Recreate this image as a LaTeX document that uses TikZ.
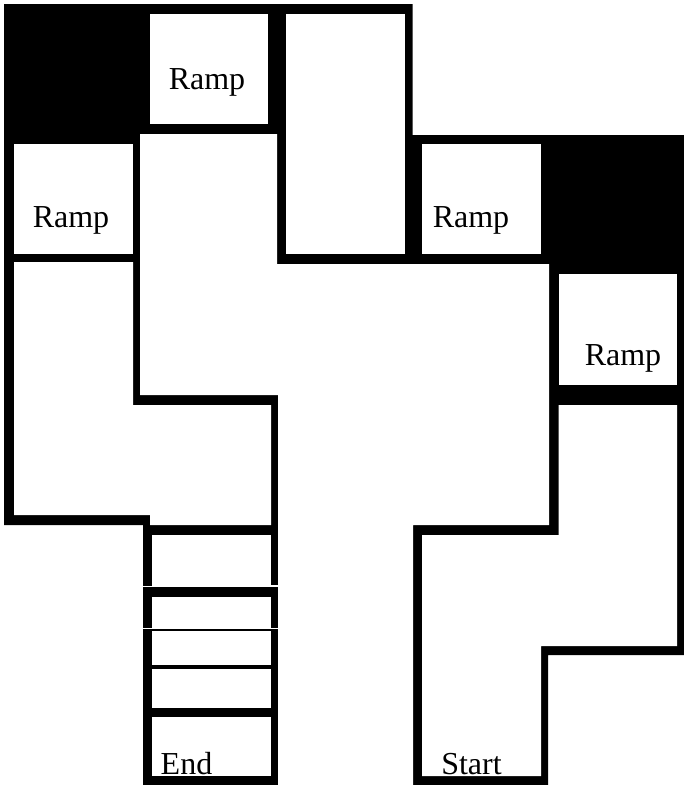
\documentclass[tikz,border=0pt]{standalone}
\usepackage{fontspec}
\setmainfont{Liberation Serif}
\tikzset{
  wall/.style={fill=black},
  room/.style={fill=white},
  tag/.style={anchor=base, inner sep=0pt, font=\fontsize{32}{36}\selectfont}
}

\begin{document}
\begin{tikzpicture}[x=1pt, y=-1pt]
    \useasboundingbox (0,0) rectangle (684,785);
    % black outline of the whole plan
    \path[wall] (4,4) -- (412.7,4) -- (412.7,135) -- (684,135) -- (684,655) -- (548,655)
          -- (548,785) -- (143,785) -- (143,525) -- (4,525) -- cycle;
    % corridor, open at the bottom
    \path[room] (140,134) -- (277,134) -- (277,264) -- (549,264) -- (549,525) -- (413,525)
          -- (413,785) -- (278,785) -- (278,395) -- (140,395) -- cycle;
    % the two bent rooms
    \path[room] (14,262) -- (133,262) -- (133,405) -- (271,405) -- (271,525) -- (150,525)
          -- (150,515) -- (14,515) -- cycle;
    \path[room] (558.5,405) -- (677,405) -- (677,646) -- (541,646) -- (541,776) -- (422,776)
          -- (422,535) -- (558.5,535) -- cycle;
    % ramp rooms and the tall room
    \path[room] (150,14) rectangle (268,124);
    \path[room] (14,144) rectangle (132.7,254);
    \path[room] (286,14) rectangle (404.7,254);
    \path[room] (422.3,144) rectangle (540.7,254);
    \path[room] (558.5,274.3) rectangle (677,384.7);
    % steps of the end column
    \path[room] (152,535) rectangle (271,587);
    \path[room] (152,597) rectangle (271,629);
    \path[room] (152,631) rectangle (271,665.3);
    \path[room] (152,669.3) rectangle (271,707.7);
    \path[room] (152,717.3) rectangle (271,776);
    % hairline gaps in the column walls
    \path[room] (271,585) rectangle (278,587);
    \path[room] (142,586.3) rectangle (152,587.3);
    \path[room] (142,628) rectangle (152,629);
    \path[room] (271,628) rectangle (278,629);
    % labels
    \node[tag] (ramptop) at (207,89) {Ramp};
    \node[tag] (rampleft) at (71,227) {Ramp};
    \node[tag] (rampmid) at (471,227) {Ramp};
    \node[tag] (rampright) at (623,365) {Ramp};
    \node[tag] (end) at (186.5,774) {End};
    \node[tag] (start) at (471.5,774) {Start};

\end{tikzpicture}
\end{document}
